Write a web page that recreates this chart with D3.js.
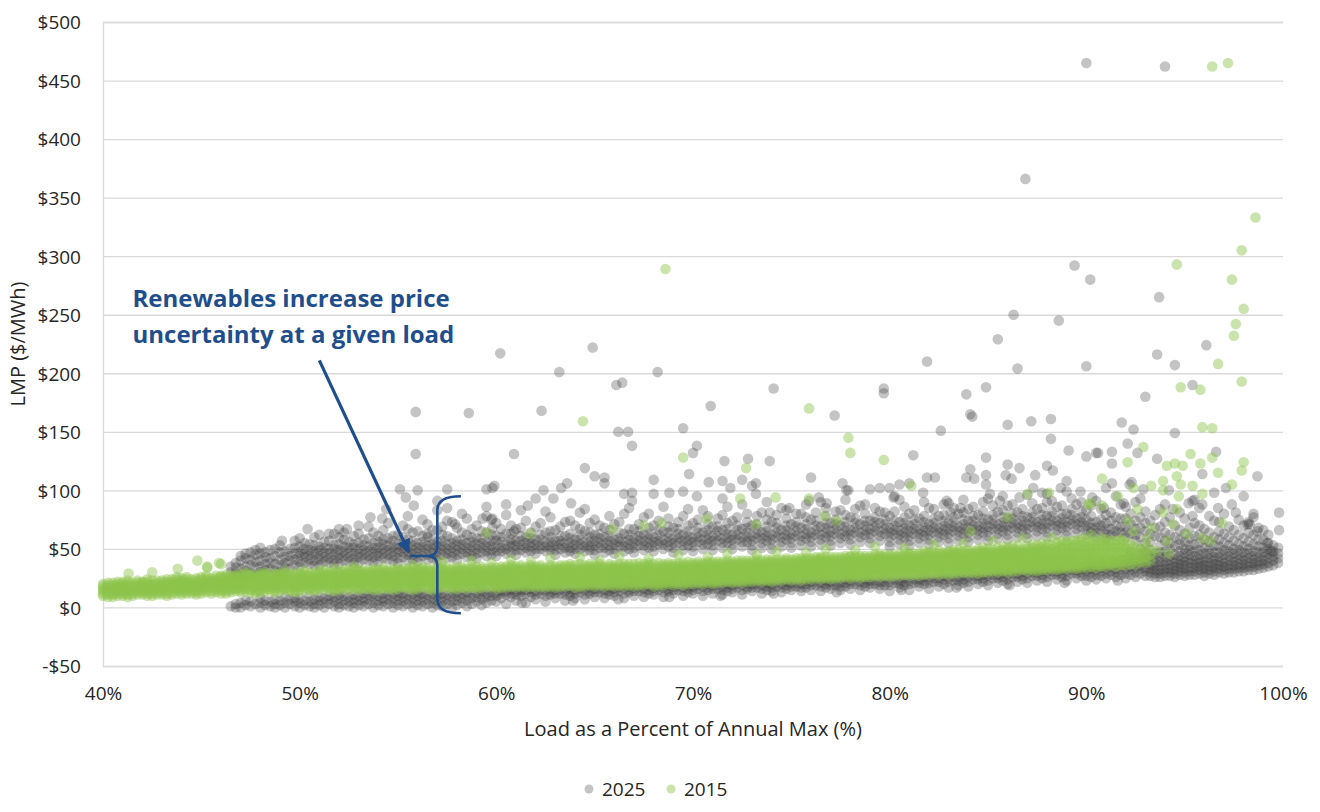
<!DOCTYPE html>
<html>
<head>
<meta charset="utf-8">
<script src="https://cdn.jsdelivr.net/npm/d3@7"></script>
<style>
  body { margin: 0; background: #fff; }
  svg text { font-family: "Open Sans", Lato, sans-serif; }
</style>
</head>
<body>
<svg id="chart"></svg>
<script>
// Axis ticks and series names
const xTicks = [40, 50, 60, 70, 80, 90, 100];
const yTicks = [-50, 0, 50, 100, 150, 200, 250, 300, 350, 400, 450, 500];
const seriesNames = ["2025", "2015"];

// 2025 dense band, one row per load step: [load %, LMP values $/MWh...]
const band2025 = [
  [46.5, 1, 30, 35], [46.75, 0, 3, 29, 34, 38],
  [47.0, 0, 4, 27, 33, 40, 44], [47.25, 2, 6, 31, 35, 42, 46],
  [47.5, 1, 5, 29, 36, 41, 47], [47.75, 3, 28, 34, 39, 45, 49],
  [48.0, 0, 4, 8, 30, 35, 40, 46, 51], [48.25, 2, 6, 32, 37, 43, 47],
  [48.5, 1, 5, 33, 38, 42, 49], [48.75, 0, 3, 7, 31, 37, 44, 50],
  [49.0, 2, 6, 30, 36, 41, 47, 53], [49.25, 0, 4, 9, 34, 38, 43, 48],
  [49.5, 3, 7, 33, 40, 44, 50], [49.75, 1, 5, 8, 36, 41, 46, 51, 57],
  [50.0, 0, 4, 8, 35, 39, 44, 47, 52, 59], [50.25, 2, 6, 38, 43, 46, 50, 55],
  [50.5, 1, 5, 10, 37, 41, 45, 49, 54], [50.75, 0, 3, 7, 36, 40, 45, 48, 53, 60],
  [51.0, 2, 6, 9, 36, 41, 44, 49, 52, 62], [51.25, 0, 4, 8, 39, 43, 47, 51, 56],
  [51.5, 3, 7, 10, 38, 42, 46, 50, 57], [51.75, 1, 5, 9, 37, 41, 45, 50, 53, 63],
  [52.0, 0, 3, 8, 11, 37, 42, 45, 49, 54, 60, 67], [52.25, 2, 6, 10, 40, 44, 48, 52, 58, 64],
  [52.5, 1, 5, 9, 39, 43, 47, 51, 56], [52.75, 0, 4, 7, 11, 38, 42, 46, 51, 54, 61],
  [53.0, 2, 6, 10, 38, 43, 46, 50, 55, 63], [53.25, 1, 5, 8, 12, 41, 45, 49, 53, 58],
  [53.5, 3, 7, 11, 40, 44, 48, 52, 59, 69], [53.75, 0, 4, 9, 12, 39, 43, 47, 51, 55, 64],
  [54.0, 2, 6, 10, 39, 44, 47, 51, 56, 61], [54.25, 1, 5, 8, 12, 42, 46, 50, 54, 58, 66],
  [54.5, 3, 7, 11, 41, 45, 49, 53, 59, 72], [54.75, 0, 4, 8, 12, 40, 44, 48, 52, 57, 61],
  [55.0, 2, 6, 10, 13, 38, 42, 47, 50, 54, 62], [55.25, 1, 5, 9, 12, 43, 47, 51, 55, 60, 70],
  [55.5, 3, 7, 11, 40, 45, 48, 52, 58, 67, 78], [55.75, 0, 4, 8, 12, 41, 45, 49, 53, 57, 64],
  [56.0, 2, 6, 10, 13, 39, 43, 47, 51, 55, 65], [56.25, 1, 5, 9, 12, 44, 48, 52, 56, 61, 75],
  [56.5, 3, 7, 11, 41, 45, 50, 53, 60, 71], [56.75, 0, 4, 8, 12, 42, 46, 50, 54, 58, 66],
  [57.0, 2, 6, 10, 13, 40, 44, 48, 52, 56, 66, 83], [57.25, 1, 5, 9, 12, 45, 49, 53, 57, 62, 69],
  [57.5, 3, 7, 11, 42, 46, 50, 54, 61, 74], [57.75, 0, 5, 9, 13, 43, 47, 51, 55, 59, 73],
  [58.0, 2, 6, 10, 13, 41, 45, 49, 53, 57, 68], [58.25, 4, 8, 12, 46, 50, 54, 58, 64, 80],
  [58.5, 1, 6, 10, 13, 43, 47, 51, 55, 62, 76], [58.75, 3, 8, 12, 44, 48, 52, 56, 60, 67],
  [59.0, 5, 9, 13, 42, 46, 50, 54, 59, 70], [59.25, 2, 7, 11, 14, 47, 51, 55, 59, 65],
  [59.5, 4, 9, 12, 44, 48, 52, 56, 64, 86], [59.75, 6, 10, 13, 45, 49, 53, 57, 62, 75],
  [60.0, 5, 10, 13, 44, 48, 52, 57, 61, 72], [60.25, 8, 12, 14, 48, 51, 56, 60, 67],
  [60.5, 3, 11, 14, 46, 50, 54, 63, 79], [60.75, 9, 12, 15, 47, 52, 55, 58, 63, 70],
  [61.0, 6, 11, 14, 45, 49, 53, 57, 67], [61.25, 10, 13, 15, 49, 53, 57, 61, 68, 83],
  [61.5, 4, 12, 15, 47, 51, 55, 60, 74], [61.75, 9, 13, 16, 48, 52, 55, 59, 64],
  [62.0, 7, 11, 14, 46, 50, 54, 58, 69], [62.25, 12, 15, 50, 53, 58, 62, 72],
  [62.5, 5, 10, 14, 48, 52, 56, 64, 82], [62.75, 11, 13, 16, 49, 52, 56, 60, 65, 77],
  [63.0, 8, 12, 15, 45, 49, 53, 57, 66], [63.25, 12, 15, 50, 54, 57, 61, 69],
  [63.5, 6, 11, 14, 47, 51, 55, 61, 73], [63.75, 10, 13, 16, 48, 51, 55, 59, 63, 74],
  [64.0, 8, 12, 15, 46, 50, 54, 58, 70], [64.25, 13, 16, 50, 54, 58, 62, 67, 81],
  [64.5, 7, 11, 15, 48, 52, 56, 65, 84], [64.75, 12, 14, 17, 49, 52, 56, 60, 64, 72],
  [65.0, 9, 13, 16, 45, 49, 53, 57, 62, 75], [65.25, 13, 16, 51, 55, 59, 63, 70],
  [65.5, 8, 12, 15, 47, 51, 55, 60, 68], [65.75, 11, 14, 17, 49, 53, 57, 61, 66, 78],
  [66.0, 10, 13, 16, 46, 50, 54, 58, 71], [66.25, 14, 17, 52, 56, 59, 64, 73],
  [66.5, 8, 12, 16, 48, 52, 56, 63, 80], [66.75, 13, 15, 18, 50, 54, 58, 62, 67, 85],
  [67.0, 10, 14, 17, 47, 51, 55, 59, 67], [67.25, 14, 17, 53, 57, 61, 65, 71],
  [67.5, 9, 13, 16, 49, 53, 57, 62, 77], [67.75, 12, 15, 18, 51, 55, 59, 63, 68, 80],
  [68.0, 11, 14, 17, 48, 52, 56, 60, 70], [68.25, 15, 18, 54, 57, 62, 66, 74],
  [68.5, 9, 13, 17, 50, 54, 58, 65, 86], [68.75, 14, 16, 19, 52, 56, 60, 64, 69, 76],
  [69.0, 12, 15, 18, 47, 51, 55, 59, 68], [69.25, 15, 18, 55, 59, 63, 67, 73],
  [69.5, 10, 14, 17, 49, 53, 57, 62, 78], [69.75, 13, 16, 19, 53, 57, 61, 65, 70, 84],
  [70.0, 12, 15, 18, 48, 52, 56, 60, 72], [70.25, 16, 19, 56, 60, 64, 68, 75],
  [70.5, 10, 14, 18, 50, 54, 58, 64, 83], [70.75, 15, 17, 20, 54, 58, 62, 66, 71, 78],
  [71.0, 12, 16, 19, 49, 53, 57, 61, 69], [71.25, 16, 19, 57, 61, 65, 69, 76],
  [71.5, 11, 15, 18, 51, 55, 59, 66, 79], [71.75, 14, 17, 20, 55, 59, 63, 67, 72, 86],
  [72.0, 13, 16, 19, 50, 54, 58, 62, 74], [72.25, 17, 20, 58, 62, 66, 70, 77],
  [72.5, 11, 15, 19, 52, 56, 60, 67, 88], [72.75, 16, 18, 21, 56, 60, 64, 68, 73, 80],
  [73.0, 14, 17, 20, 49, 53, 57, 61, 70], [73.25, 17, 20, 59, 63, 67, 71, 78],
  [73.5, 12, 16, 19, 51, 55, 59, 64, 81], [73.75, 15, 18, 21, 57, 61, 65, 69, 75, 90],
  [74.0, 14, 17, 20, 50, 54, 58, 62, 73], [74.25, 18, 21, 60, 64, 68, 72, 79],
  [74.5, 13, 17, 20, 52, 56, 60, 66, 85], [74.75, 16, 19, 22, 58, 62, 66, 70, 76, 83],
  [75.0, 15, 18, 21, 51, 55, 59, 63, 71], [75.25, 18, 21, 61, 65, 69, 73, 80],
  [75.5, 14, 17, 20, 53, 57, 61, 68, 80], [75.75, 17, 20, 23, 59, 63, 67, 71, 77, 88],
  [76.0, 15, 19, 22, 52, 56, 60, 64, 75], [76.25, 19, 22, 62, 66, 70, 74, 81],
  [76.5, 14, 18, 21, 54, 58, 62, 69, 90], [76.75, 17, 20, 23, 60, 64, 68, 72, 78, 85],
  [77.0, 16, 19, 22, 53, 57, 61, 65, 72], [77.25, 19, 22, 63, 67, 71, 75, 82],
  [77.5, 15, 18, 21, 55, 59, 63, 70, 83], [77.75, 18, 21, 24, 61, 65, 69, 73, 79, 92],
  [78.0, 16, 20, 23, 54, 58, 62, 66, 77], [78.25, 20, 23, 64, 68, 72, 76, 84],
  [78.5, 15, 19, 22, 56, 60, 64, 71, 87], [78.75, 18, 21, 24, 62, 66, 70, 74, 80, 88],
  [79.0, 17, 20, 23, 55, 59, 63, 67, 74], [79.25, 20, 23, 65, 69, 73, 77, 85],
  [79.5, 16, 19, 22, 57, 61, 65, 72, 82], [79.75, 19, 22, 25, 63, 67, 71, 75, 81],
  [80.0, 14, 19, 22, 52, 56, 60, 64, 68, 78], [80.25, 21, 24, 62, 66, 70, 74, 82, 95],
  [80.5, 17, 20, 23, 54, 58, 62, 66, 73, 92], [80.75, 19, 22, 25, 60, 64, 68, 72, 77, 86],
  [81.0, 15, 20, 23, 53, 57, 61, 65, 70, 80], [81.25, 21, 24, 63, 67, 71, 75, 83],
  [81.5, 18, 21, 24, 55, 59, 63, 67, 76], [81.75, 20, 23, 26, 61, 65, 69, 73, 78, 90],
  [82.0, 16, 21, 24, 54, 58, 62, 66, 71, 85], [82.25, 22, 25, 64, 68, 72, 76, 84],
  [82.5, 18, 22, 25, 56, 60, 64, 68, 78], [82.75, 20, 24, 27, 62, 66, 70, 74, 79, 88],
  [83.0, 17, 22, 25, 55, 59, 63, 67, 72, 89], [83.25, 23, 26, 65, 69, 73, 77, 85],
  [83.5, 19, 23, 26, 57, 61, 65, 69, 80], [83.75, 21, 24, 27, 63, 67, 71, 75, 81, 92],
  [84.0, 18, 22, 26, 56, 60, 64, 68, 74, 84], [84.25, 24, 27, 66, 70, 74, 78, 86],
  [84.5, 20, 24, 27, 58, 62, 66, 70, 79], [84.75, 22, 25, 28, 64, 68, 72, 76, 82, 90],
  [85.0, 19, 23, 27, 57, 61, 65, 69, 75, 93], [85.25, 25, 28, 67, 71, 75, 79, 87],
  [85.5, 21, 25, 28, 59, 63, 67, 71, 82], [85.75, 23, 26, 29, 65, 69, 73, 77, 83, 95],
  [86.0, 20, 24, 28, 58, 62, 66, 70, 76, 87], [86.25, 26, 29, 68, 72, 76, 80, 88],
  [86.5, 22, 26, 29, 60, 64, 68, 72, 81], [86.75, 24, 27, 30, 66, 70, 74, 78, 84],
  [87.0, 21, 25, 29, 59, 63, 67, 71, 77, 96], [87.25, 27, 30, 69, 73, 77, 81, 89],
  [87.5, 23, 27, 30, 61, 65, 69, 73, 84], [87.75, 25, 28, 31, 67, 71, 75, 79, 85, 98],
  [88.0, 22, 26, 30, 60, 64, 68, 72, 78, 90], [88.25, 28, 31, 70, 74, 78, 82, 91],
  [88.5, 24, 28, 31, 62, 66, 70, 74, 86], [88.75, 26, 29, 32, 68, 72, 76, 80, 87],
  [89.0, 23, 27, 31, 61, 65, 69, 73, 80, 99], [89.25, 29, 32, 71, 75, 79, 84, 93],
  [89.5, 25, 29, 32, 63, 67, 71, 76, 88], [89.75, 27, 30, 33, 69, 73, 77, 82, 90],
  [90.0, 23, 27, 31, 34, 62, 66, 70, 75, 83], [90.25, 26, 30, 33, 36, 64, 68, 72, 78, 87],
  [90.5, 24, 28, 32, 35, 60, 64, 68, 73, 91], [90.75, 27, 31, 34, 38, 66, 70, 75, 84],
  [91.0, 25, 29, 33, 36, 59, 63, 67, 72, 79], [91.25, 28, 31, 35, 40, 62, 67, 74, 81],
  [91.5, 26, 30, 33, 37, 61, 65, 70, 77, 95], [91.75, 28, 32, 36, 41, 64, 69, 76, 88],
  [92.0, 25, 29, 33, 37, 41, 60, 64, 69, 76, 86], [92.25, 28, 32, 35, 39, 44, 48, 63, 71, 80],
  [92.5, 26, 30, 34, 38, 42, 57, 62, 67, 74, 90], [92.75, 29, 33, 36, 40, 45, 50, 60, 68, 77, 93],
  [93.0, 27, 31, 34, 38, 42, 47, 55, 65, 72, 82], [93.25, 27, 30, 33, 36, 40, 44, 49, 56, 63, 74],
  [93.5, 26, 29, 32, 35, 38, 42, 46, 61, 68, 79], [93.75, 26, 29, 32, 35, 39, 43, 47, 53, 60, 69, 84],
  [94.0, 27, 30, 33, 36, 39, 43, 48, 57, 64, 73, 88], [94.25, 27, 30, 33, 36, 40, 44, 50, 55, 62, 77],
  [94.5, 26, 29, 32, 35, 38, 41, 45, 52, 60, 70], [94.75, 28, 31, 34, 37, 40, 44, 48, 54, 58, 66, 81],
  [95.0, 27, 30, 33, 36, 39, 42, 46, 50, 56, 63, 76], [95.25, 28, 31, 34, 38, 41, 45, 49, 53, 59, 68],
  [95.5, 28, 31, 34, 37, 40, 44, 48, 54, 61, 72, 92], [95.75, 29, 32, 35, 38, 41, 45, 49, 55, 62, 70, 85],
  [96.0, 27, 30, 33, 36, 39, 42, 46, 51, 58, 67], [96.25, 29, 32, 35, 38, 42, 46, 50, 56, 64, 78],
  [96.5, 28, 31, 34, 37, 40, 43, 47, 53, 60, 74], [96.75, 30, 33, 36, 39, 43, 47, 52, 58, 65, 73],
  [97.0, 29, 32, 35, 38, 41, 45, 49, 55, 63, 80], [97.25, 30, 33, 36, 40, 44, 48, 53, 60, 69],
  [97.5, 30, 33, 36, 39, 42, 46, 50, 57, 66], [97.75, 31, 34, 37, 41, 45, 49, 54, 62, 75],
  [98.0, 31, 34, 37, 40, 43, 47, 52, 59, 70, 95], [98.25, 32, 35, 38, 42, 46, 50, 56, 64, 73],
  [98.5, 32, 35, 38, 41, 44, 48, 54, 62, 77], [98.75, 33, 36, 39, 43, 47, 52, 58, 68],
  [99.0, 34, 37, 40, 43, 47, 51, 58, 66], [99.25, 35, 38, 42, 46, 50, 55, 62],
  [99.5, 36, 40, 44, 48, 53], [99.75, 38, 42, 46, 51]
];

// 2025 scattered hours: [load %, LMP]
const scatter2025 = [
  [90.0, 465], [94.0, 462], [86.9, 366], [89.4, 292], [90.2, 280], [93.7, 265], [86.3, 250], [88.6, 245],
  [85.5, 229], [96.1, 224], [64.9, 222], [60.2, 217], [93.6, 216], [81.9, 210], [90.0, 206], [94.5, 207],
  [86.5, 204], [63.2, 201], [68.2, 201], [66.1, 190], [66.4, 192], [95.4, 190], [74.1, 187], [79.7, 187],
  [79.7, 183], [84.9, 188], [83.9, 182], [93.0, 180], [62.3, 168], [55.9, 167], [58.6, 166], [70.9, 172],
  [77.2, 164], [84.1, 165], [84.2, 163], [88.2, 161], [87.2, 159], [91.8, 158], [86.0, 156], [69.5, 153],
  [92.4, 152], [82.6, 151], [66.2, 150], [66.7, 150], [94.5, 149], [88.2, 144], [92.1, 140], [66.9, 138],
  [70.2, 138], [89.1, 134], [91.3, 133], [96.6, 133], [70.0, 132], [90.5, 132], [92.6, 132], [55.9, 131],
  [60.9, 131], [81.2, 130], [90.0, 129], [84.9, 128], [72.8, 127], [93.6, 127], [71.6, 125], [73.9, 125],
  [91.3, 123], [86.0, 122], [88.0, 121], [64.5, 119], [86.6, 119], [84.1, 118], [88.3, 117], [69.8, 114],
  [65.0, 112], [98.7, 112], [65.5, 111], [76.0, 111], [81.9, 111], [82.3, 111], [83.9, 111], [84.3, 110],
  [86.2, 110], [68.0, 109], [72.5, 109], [71.5, 108], [70.8, 107], [65.5, 106], [73.2, 106], [77.6, 106],
  [84.9, 105], [87.4, 113], [84.9, 113], [85.9, 113], [59.9, 104], [59.8, 102], [77.9, 100],
  [62.4, 100], [63.3, 102], [63.6, 106], [62.0, 93], [62.9, 93], [63.8, 89], [61.6, 87], [66.5, 97],
  [66.9, 98], [66.9, 91], [68.0, 97], [68.8, 98], [69.5, 99], [70.2, 95], [71.5, 93], [71.9, 102],
  [73.0, 104], [73.2, 97], [73.9, 81], [74.9, 85], [75.9, 91], [76.4, 94], [76.8, 89], [77.8, 100],
  [79.0, 101], [79.5, 102], [80.2, 94], [59.8, 76], [59.5, 78], [60.9, 65], [60.5, 88],
  [55.1, 101], [56.0, 100], [57.5, 101], [55.4, 94], [54.4, 84], [55.8, 87], [57.5, 85], [57.0, 91],
  [54.2, 76], [53.6, 77], [53.0, 70], [52.4, 67], [51.5, 63], [50.4, 67], [49.1, 57], [56.5, 63],
  [57.9, 71], [59.5, 101], [59.3, 76], [59.8, 68],
  [80.0, 102], [80.5, 105], [81.0, 106], [81.7, 98], [82.9, 91], [83.6, 85], [83.1, 81], [85.1, 97],
  [85.6, 91], [86.6, 94], [87.3, 102], [88.0, 97], [88.7, 102], [89.0, 108], [89.7, 99], [90.3, 94],
  [91.0, 102], [91.3, 106], [92.2, 105], [92.9, 101], [94.2, 100], [95.4, 91], [95.9, 114], [96.7, 85],
  [97.1, 102], [97.4, 88], [97.6, 81], [98.5, 80], [98.3, 71], [98.7, 65], [99.2, 55], [99.4, 48],
  [99.8, 81], [99.8, 66], [90.6, 132], [92.3, 107], [96.5, 98], [95.9, 88], [90.9, 85], [91.9, 89],
  [94.4, 84], [95.2, 89], [95.4, 78], [98.2, 71],
  [61.3, 4], [63.9, 6], [66.2, 7], [68.8, 9], [71.4, 10], [74.1, 12], [77.3, 13], [80.6, 15],
  [83.4, 17], [86.1, 19], [88.9, 21], [91.6, 23]
];

// 2015 dense band: [load %, LMP values...]
const band2015 = [
  [40.0, 10, 12, 14, 16, 18, 20], [40.25, 9, 11, 13, 15, 17, 19, 21],
  [40.5, 9, 11, 13, 15, 17, 19, 21], [40.75, 10, 12, 14, 16, 18, 20, 22],
  [41.0, 10, 12, 14, 16, 18, 20, 22], [41.25, 9, 11, 13, 15, 17, 19, 21, 23],
  [41.5, 10, 12, 14, 17, 19, 21], [41.75, 11, 13, 15, 17, 19, 21, 23],
  [42.0, 11, 13, 15, 17, 19, 21, 22], [42.25, 10, 12, 14, 16, 18, 20, 22, 24],
  [42.5, 10, 12, 14, 16, 18, 20, 23], [42.75, 11, 13, 15, 17, 19, 21, 23],
  [43.0, 11, 13, 15, 17, 19, 21, 23], [43.25, 10, 12, 14, 16, 18, 20, 22, 24],
  [43.5, 11, 13, 16, 18, 20, 22, 24], [43.75, 12, 14, 16, 18, 20, 22, 24, 26],
  [44.0, 11, 13, 15, 17, 19, 21, 23, 25], [44.25, 12, 14, 16, 18, 20, 22, 24, 26],
  [44.5, 12, 14, 16, 18, 20, 22, 24], [44.75, 11, 13, 15, 17, 19, 21, 23, 25],
  [45.0, 12, 14, 16, 18, 20, 22, 24, 26], [45.25, 13, 15, 17, 19, 21, 23, 25, 27],
  [45.5, 12, 14, 17, 19, 21, 23, 25], [45.75, 13, 15, 17, 19, 21, 23, 25, 27],
  [46.0, 12, 14, 16, 18, 20, 22, 24, 26, 27], [46.25, 12, 14, 16, 18, 20, 22, 24, 26, 28],
  [46.5, 13, 15, 17, 19, 21, 23, 25, 27], [46.75, 14, 16, 18, 20, 22, 24, 26, 28],
  [47.0, 13, 15, 17, 19, 21, 23, 25, 27, 28], [47.25, 14, 16, 18, 20, 22, 24, 26, 28, 30],
  [47.5, 13, 15, 18, 20, 22, 24, 26, 28], [47.75, 12, 14, 16, 18, 20, 22, 24, 26, 28],
  [48.0, 13, 15, 17, 19, 21, 23, 25, 27, 29], [48.25, 14, 16, 18, 20, 22, 24, 26, 28, 30],
  [48.5, 14, 16, 18, 20, 22, 24, 26, 28], [48.75, 13, 15, 17, 19, 21, 23, 25, 27, 29],
  [49.0, 14, 16, 18, 20, 22, 24, 26, 28, 29], [49.25, 15, 17, 19, 21, 23, 25, 27, 29, 31],
  [49.5, 14, 16, 18, 21, 23, 25, 27, 29], [49.75, 13, 15, 17, 19, 21, 23, 25, 27, 29],
  [50.0, 14, 16, 18, 20, 22, 24, 26, 28, 30], [50.25, 15, 17, 19, 21, 23, 25, 27, 29, 31],
  [50.5, 15, 17, 19, 21, 23, 25, 27, 29], [50.75, 14, 16, 18, 20, 22, 24, 26, 28, 30],
  [51.0, 15, 17, 19, 21, 23, 25, 27, 29, 31], [51.25, 16, 18, 20, 22, 24, 26, 28, 30, 32],
  [51.5, 15, 17, 19, 22, 24, 26, 28, 30], [51.75, 14, 16, 18, 20, 22, 24, 26, 28, 30, 33],
  [52.0, 15, 17, 19, 21, 23, 25, 27, 29, 31], [52.25, 16, 18, 20, 22, 24, 26, 28, 30, 32],
  [52.5, 15, 18, 20, 22, 24, 26, 28, 30, 32], [52.75, 16, 18, 20, 22, 24, 26, 28, 30, 32, 35],
  [53.0, 15, 17, 19, 21, 23, 25, 27, 29, 31, 32], [53.25, 16, 18, 20, 22, 24, 26, 28, 30, 32],
  [53.5, 16, 18, 20, 22, 24, 26, 28, 30, 32], [53.75, 15, 17, 19, 21, 23, 25, 27, 29, 31, 33],
  [54.0, 15, 17, 19, 21, 23, 25, 27, 29, 31, 32], [54.25, 16, 18, 20, 22, 24, 26, 28, 30, 32, 34],
  [54.5, 16, 18, 20, 22, 24, 26, 28, 30, 32], [54.75, 15, 17, 19, 21, 23, 25, 27, 29, 31, 33],
  [55.0, 16, 18, 20, 22, 24, 26, 28, 30, 32, 33], [55.25, 17, 19, 21, 23, 25, 27, 29, 31, 33],
  [55.5, 16, 18, 20, 23, 25, 27, 29, 31, 33], [55.75, 15, 17, 19, 21, 23, 25, 27, 29, 31, 33, 36],
  [56.0, 16, 18, 20, 22, 24, 26, 28, 30, 32, 33], [56.25, 17, 19, 21, 23, 25, 27, 29, 31, 33, 35],
  [56.5, 16, 18, 21, 23, 25, 27, 29, 31, 33], [56.75, 15, 17, 19, 21, 23, 25, 27, 29, 31, 33],
  [57.0, 16, 18, 20, 22, 24, 26, 28, 30, 32, 34], [57.25, 17, 19, 21, 23, 25, 27, 29, 31, 33, 35, 39],
  [57.5, 17, 19, 21, 23, 25, 27, 29, 31, 33], [57.75, 16, 18, 20, 22, 24, 26, 28, 30, 32, 34],
  [58.0, 16, 18, 20, 22, 24, 26, 28, 30, 32, 34], [58.25, 17, 19, 21, 23, 25, 27, 29, 31, 33, 35],
  [58.5, 16, 18, 21, 23, 25, 27, 29, 31, 33], [58.75, 17, 19, 21, 23, 25, 27, 29, 31, 33, 35, 40],
  [59.0, 16, 18, 20, 22, 24, 26, 28, 30, 32, 34], [59.25, 17, 19, 21, 23, 25, 27, 29, 31, 33, 35],
  [59.5, 17, 19, 21, 23, 25, 27, 29, 31, 33], [59.75, 18, 20, 22, 24, 26, 28, 30, 32, 34, 38],
  [60.0, 16, 18, 20, 22, 24, 26, 28, 30, 32, 34], [60.25, 17, 19, 21, 23, 25, 27, 29, 31, 33, 35],
  [60.5, 17, 19, 21, 23, 25, 27, 29, 31, 33, 35], [60.75, 18, 20, 22, 24, 26, 28, 30, 32, 34, 36, 41],
  [61.0, 17, 19, 21, 23, 25, 27, 29, 31, 33, 35], [61.25, 18, 20, 22, 24, 26, 28, 30, 32, 34, 36],
  [61.5, 17, 19, 22, 24, 26, 28, 30, 32, 34], [61.75, 18, 20, 22, 24, 26, 28, 30, 32, 34, 36, 39],
  [62.0, 17, 19, 21, 23, 25, 27, 29, 31, 33, 35], [62.25, 18, 20, 22, 24, 26, 28, 30, 32, 34, 36],
  [62.5, 17, 19, 21, 24, 26, 28, 30, 32, 34], [62.75, 18, 20, 22, 24, 26, 28, 30, 32, 34, 36, 42],
  [63.0, 17, 19, 21, 23, 25, 27, 29, 31, 33, 35], [63.25, 18, 20, 22, 24, 26, 28, 30, 32, 34, 36],
  [63.5, 18, 20, 22, 24, 26, 28, 30, 32, 34, 36], [63.75, 19, 21, 23, 25, 27, 29, 31, 33, 35, 37],
  [64.0, 17, 19, 21, 23, 25, 27, 29, 31, 33, 36], [64.25, 18, 20, 22, 24, 26, 28, 30, 32, 34, 37, 43],
  [64.5, 18, 20, 22, 24, 26, 28, 30, 32, 34, 36], [64.75, 19, 21, 23, 25, 27, 29, 31, 33, 35, 37],
  [65.0, 18, 20, 22, 24, 26, 28, 30, 32, 34, 36], [65.25, 19, 21, 23, 25, 27, 29, 31, 33, 35, 37, 40],
  [65.5, 18, 20, 22, 25, 27, 29, 31, 33, 35], [65.75, 19, 21, 23, 25, 27, 29, 31, 33, 35, 37],
  [66.0, 18, 20, 22, 24, 26, 28, 30, 32, 34, 36], [66.25, 19, 21, 23, 25, 27, 29, 31, 33, 35, 37, 44],
  [66.5, 18, 20, 23, 25, 27, 29, 31, 33, 35, 37], [66.75, 19, 21, 23, 25, 27, 29, 31, 33, 35, 37],
  [67.0, 18, 20, 22, 24, 26, 28, 30, 32, 34, 37], [67.25, 19, 21, 23, 25, 27, 29, 31, 33, 35, 38],
  [67.5, 19, 21, 23, 25, 27, 29, 31, 33, 35, 37], [67.75, 20, 22, 24, 26, 28, 30, 32, 34, 36, 38, 42],
  [68.0, 18, 20, 22, 24, 26, 28, 30, 32, 34, 37], [68.25, 19, 21, 23, 25, 27, 29, 31, 33, 35, 38],
  [68.5, 19, 21, 23, 25, 27, 29, 31, 33, 35, 37], [68.75, 20, 22, 24, 26, 28, 30, 32, 34, 36, 38],
  [69.0, 19, 21, 23, 25, 27, 29, 31, 33, 35, 37], [69.25, 20, 22, 24, 26, 28, 30, 32, 34, 36, 38, 45],
  [69.5, 19, 21, 24, 26, 28, 30, 32, 34, 36, 38], [69.75, 20, 22, 24, 26, 28, 30, 32, 34, 36, 39],
  [70.0, 20, 22, 24, 26, 28, 30, 32, 34, 36, 38], [70.25, 21, 23, 25, 27, 29, 31, 33, 35, 37, 39],
  [70.5, 20, 22, 24, 26, 28, 30, 32, 34, 36, 38], [70.75, 21, 23, 25, 27, 29, 31, 33, 35, 37, 39, 43],
  [71.0, 20, 22, 24, 27, 29, 31, 33, 35, 37, 39], [71.25, 21, 23, 25, 27, 29, 31, 33, 35, 37, 39],
  [71.5, 21, 23, 25, 27, 29, 31, 33, 35, 37, 39], [71.75, 22, 24, 26, 28, 30, 32, 34, 36, 38, 40, 46],
  [72.0, 21, 23, 25, 27, 29, 31, 33, 35, 37, 39], [72.25, 22, 24, 26, 28, 30, 32, 34, 36, 38, 40],
  [72.5, 21, 23, 26, 28, 30, 32, 34, 36, 38, 40], [72.75, 22, 24, 26, 28, 30, 32, 34, 36, 38, 40],
  [73.0, 22, 24, 26, 28, 30, 32, 34, 36, 38, 40], [73.25, 23, 25, 27, 29, 31, 33, 35, 37, 39, 41, 45],
  [73.5, 22, 24, 26, 28, 30, 32, 34, 36, 38, 40], [73.75, 23, 25, 27, 29, 31, 33, 35, 37, 39, 41],
  [74.0, 22, 24, 26, 29, 31, 33, 35, 37, 39, 41], [74.25, 23, 25, 27, 29, 31, 33, 35, 37, 39, 41, 48],
  [74.5, 23, 25, 27, 29, 31, 33, 35, 37, 39, 41], [74.75, 24, 26, 28, 30, 32, 34, 36, 38, 40, 42],
  [75.0, 23, 25, 27, 29, 31, 33, 35, 37, 39, 41], [75.25, 24, 26, 28, 30, 32, 34, 36, 38, 40, 42],
  [75.5, 23, 25, 28, 30, 32, 34, 36, 38, 40, 42], [75.75, 24, 26, 28, 30, 32, 34, 36, 38, 40, 42, 47],
  [76.0, 24, 26, 28, 30, 32, 34, 36, 38, 40, 42], [76.25, 25, 27, 29, 31, 33, 35, 37, 39, 41, 43],
  [76.5, 24, 26, 28, 30, 32, 34, 36, 38, 40, 42, 43], [76.75, 25, 27, 29, 31, 33, 35, 37, 39, 41, 43, 50],
  [77.0, 24, 26, 28, 31, 33, 35, 37, 39, 41, 43], [77.25, 25, 27, 29, 31, 33, 35, 37, 39, 41, 43],
  [77.5, 25, 27, 29, 31, 33, 35, 37, 39, 41, 43], [77.75, 26, 28, 30, 32, 34, 36, 38, 40, 42, 44],
  [78.0, 25, 27, 29, 31, 33, 35, 37, 39, 41, 43, 44], [78.25, 26, 28, 30, 32, 34, 36, 38, 40, 42, 44, 49],
  [78.5, 25, 27, 30, 32, 34, 36, 38, 40, 42, 44], [78.75, 26, 28, 30, 32, 34, 36, 38, 40, 42, 44],
  [79.0, 26, 28, 30, 32, 34, 36, 38, 40, 42, 44], [79.25, 27, 29, 31, 33, 35, 37, 39, 41, 43, 45, 52],
  [79.5, 26, 28, 30, 32, 34, 36, 38, 40, 42, 44, 45], [79.75, 27, 29, 31, 33, 35, 37, 39, 41, 43, 45],
  [80.0, 26, 28, 31, 33, 35, 37, 39, 41, 43, 45], [80.25, 27, 29, 31, 33, 35, 37, 39, 41, 43, 45],
  [80.5, 27, 29, 31, 33, 35, 37, 39, 41, 43, 45], [80.75, 28, 30, 32, 34, 36, 38, 40, 42, 44, 46, 51],
  [81.0, 27, 29, 31, 33, 35, 37, 39, 41, 43, 45, 46], [81.25, 28, 30, 32, 34, 36, 38, 40, 42, 44, 46],
  [81.5, 27, 29, 32, 34, 36, 38, 40, 42, 44, 46], [81.75, 28, 30, 32, 34, 36, 38, 40, 42, 44, 46, 48],
  [82.0, 28, 30, 32, 34, 36, 38, 40, 42, 44, 46, 47], [82.25, 29, 31, 33, 35, 37, 39, 41, 43, 45, 47, 54],
  [82.5, 28, 30, 32, 34, 36, 38, 40, 42, 44, 46, 48], [82.75, 29, 31, 33, 35, 37, 39, 41, 43, 45, 47],
  [83.0, 28, 30, 33, 35, 37, 39, 41, 43, 45, 47, 48], [83.25, 29, 31, 33, 35, 37, 39, 41, 43, 45, 47, 49],
  [83.5, 29, 31, 33, 35, 37, 39, 41, 43, 45, 47, 49], [83.75, 30, 32, 34, 36, 38, 40, 42, 44, 46, 48, 55],
  [84.0, 29, 31, 33, 35, 37, 39, 41, 43, 45, 47, 49], [84.25, 30, 32, 34, 36, 38, 40, 42, 44, 46, 48],
  [84.5, 29, 31, 34, 36, 38, 40, 42, 44, 46, 48, 50], [84.75, 30, 32, 34, 36, 38, 40, 42, 44, 46, 48, 51],
  [85.0, 30, 32, 34, 36, 38, 40, 42, 44, 46, 48, 50], [85.25, 31, 33, 35, 37, 39, 41, 43, 45, 47, 49, 57],
  [85.5, 30, 32, 34, 36, 38, 40, 42, 44, 46, 48, 51], [85.75, 31, 33, 35, 37, 39, 41, 43, 45, 47, 49, 52],
  [86.0, 30, 32, 35, 37, 39, 41, 43, 45, 47, 49, 51], [86.25, 31, 33, 35, 37, 39, 41, 43, 45, 47, 50, 53],
  [86.5, 31, 33, 35, 37, 39, 41, 43, 45, 47, 49, 52], [86.75, 32, 34, 36, 38, 40, 42, 44, 46, 48, 50, 59],
  [87.0, 31, 33, 35, 37, 39, 41, 43, 45, 47, 50, 52], [87.25, 32, 34, 36, 38, 40, 42, 44, 46, 48, 51, 54],
  [87.5, 31, 33, 36, 38, 40, 42, 44, 46, 48, 50, 53], [87.75, 32, 34, 36, 38, 40, 42, 44, 46, 49, 52, 55],
  [88.0, 32, 34, 36, 38, 40, 42, 44, 46, 48, 51, 54], [88.25, 33, 35, 37, 39, 41, 43, 45, 47, 50, 53, 60],
  [88.5, 32, 34, 36, 38, 40, 42, 44, 47, 49, 52, 55], [88.75, 33, 35, 37, 39, 41, 43, 45, 48, 51, 54, 57],
  [89.0, 33, 35, 37, 39, 41, 43, 45, 47, 50, 53, 56], [89.25, 34, 36, 38, 40, 42, 44, 46, 48, 51, 54, 57],
  [89.5, 33, 35, 37, 39, 41, 44, 46, 48, 51, 54, 57], [89.75, 34, 36, 38, 40, 42, 45, 47, 50, 53, 56, 59],
  [90.0, 34, 36, 38, 40, 42, 44, 46, 49, 52, 55, 58], [90.25, 35, 37, 39, 41, 43, 45, 47, 50, 53, 56, 62],
  [90.5, 34, 36, 38, 41, 43, 45, 48, 51, 54, 57], [90.75, 35, 37, 39, 42, 44, 47, 50, 53, 56, 59],
  [91.0, 35, 37, 39, 41, 43, 46, 49, 52, 55, 58], [91.25, 36, 38, 40, 42, 45, 48, 51, 54, 57],
  [91.5, 35, 38, 40, 42, 45, 48, 51, 54, 57], [91.75, 36, 39, 42, 45, 48, 51, 54, 58],
  [92.0, 36, 39, 42, 45, 48, 51, 55], [92.25, 37, 40, 43, 47, 50, 54],
  [92.5, 37, 41, 44, 48, 52], [92.75, 39, 42, 46, 50],
  [93.0, 38, 43, 47, 52], [93.25, 40, 45, 50]
];

// 2015 scattered hours: [load %, LMP]
const scatter2015 = [
  [96.4, 462], [97.2, 465], [68.6, 289], [94.6, 293], [98.6, 333], [97.9, 305], [97.4, 280], [98.0, 255],
  [97.6, 242], [97.5, 232], [96.7, 208], [97.9, 193], [94.8, 188], [95.8, 186], [75.9, 170], [64.4, 159],
  [95.9, 154], [96.4, 153], [77.9, 145], [92.9, 137], [78.0, 132], [95.3, 131], [69.5, 128], [96.4, 128],
  [79.7, 126], [92.1, 124], [98.0, 124], [94.1, 121], [94.5, 123], [94.9, 121], [95.8, 123], [72.7, 119],
  [97.9, 117], [96.7, 115], [94.6, 112], [90.8, 110], [93.9, 108], [97.4, 105], [94.8, 105], [95.4, 104],
  [93.3, 104], [81.1, 104], [92.4, 102], [93.9, 100], [88.1, 98], [87.0, 97], [95.9, 97], [94.7, 95],
  [91.6, 95], [74.2, 94], [75.9, 93], [72.4, 93], [90.2, 89], [90.1, 88], [90.8, 87], [92.6, 84],
  [94.6, 84], [93.9, 81], [76.7, 78], [86.0, 77], [70.7, 76], [77.3, 74], [92.1, 74], [96.9, 72],
  [68.4, 72], [73.2, 71], [94.4, 71], [67.5, 70], [93.3, 68], [65.9, 67], [84.1, 65], [92.4, 65],
  [59.5, 64], [95.1, 63], [61.7, 63], [95.9, 59], [93.1, 59], [96.3, 57], [94.1, 57], [91.9, 57],
  [93.6, 48], [94.2, 46], [45.9, 38], [45.3, 35], [41.3, 29], [44.8, 40], [46.0, 37], [45.3, 34],
  [42.5, 30], [43.8, 33]
];

const width = 1320;
const height = 812;
const marginTop = 22;
const marginRight = 37;
const marginBottom = 146;
const marginLeft = 103;

const gray = "#333333";
const green = "#8bc34a";
const navy = "#1f4e8c";
const gridColor = "#d9d9d9";

// flatten rows into points
function toPoints(band, scatter) {
  const pts = band.flatMap(([load, ...vals]) => vals.map(v => ({ load, lmp: v })));
  return pts.concat(scatter.map(([load, lmp]) => ({ load, lmp })));
}
const points2025 = toPoints(band2025, scatter2025);
const points2015 = toPoints(band2015, scatter2015);

const x = d3.scaleLinear()
  .domain([40, 100])
  .range([marginLeft, width - marginRight]);

const y = d3.scaleLinear()
  .domain([-50, 500])
  .range([height - marginBottom, marginTop]);

const svg = d3.select("#chart")
  .attr("width", width)
  .attr("height", height)
  .attr("viewBox", [0, 0, width, height]);

// y axis with gridlines
svg.append("g")
  .attr("transform", `translate(${marginLeft},0)`)
  .call(d3.axisLeft(y)
    .tickValues(yTicks)
    .tickSize(-(width - marginLeft - marginRight))
    .tickPadding(22)
    .tickFormat(d => (d < 0 ? "-$" + (-d) : "$" + d)))
  .call(g => g.select(".domain").attr("stroke", gridColor).attr("stroke-width", 1.3))
  .call(g => g.selectAll(".tick line").attr("stroke", gridColor).attr("stroke-width", 1.3))
  .call(g => g.selectAll(".tick text")
    .attr("fill", "#262626")
    .attr("font-size", 19)
    .attr("dy", "0.36em"));

// x axis labels
svg.append("g")
  .attr("transform", `translate(0,${height - marginBottom})`)
  .call(d3.axisBottom(x)
    .tickValues(xTicks)
    .tickSize(0)
    .tickPadding(21)
    .tickFormat(d => d + "%"))
  .call(g => g.select(".domain").remove())
  .call(g => g.selectAll(".tick text")
    .attr("fill", "#262626")
    .attr("font-size", 19));

// scatter: 2025 below, 2015 on top
const r = 5.3;
svg.append("g")
  .selectAll("circle")
  .data(points2025)
  .join("circle")
    .attr("cx", d => x(d.load))
    .attr("cy", d => y(d.lmp))
    .attr("r", r)
    .attr("fill", gray)
    .attr("fill-opacity", 0.29);

svg.append("g")
  .selectAll("circle")
  .data(points2015)
  .join("circle")
    .attr("cx", d => x(d.load))
    .attr("cy", d => y(d.lmp))
    .attr("r", r)
    .attr("fill", green)
    .attr("fill-opacity", 0.45);

// axis titles
svg.append("text")
  .attr("x", (marginLeft + width - marginRight) / 2)
  .attr("y", 736)
  .attr("text-anchor", "middle")
  .attr("font-size", 20)
  .attr("fill", "#262626")
  .text("Load as a Percent of Annual Max (%)");

svg.append("text")
  .attr("transform", `translate(25,${(marginTop + height - marginBottom) / 2})rotate(-90)`)
  .attr("text-anchor", "middle")
  .attr("font-size", 20)
  .attr("fill", "#262626")
  .text("LMP ($/MWh)");

// annotation
svg.append("defs").append("marker")
  .attr("id", "arrowhead")
  .attr("viewBox", "0 0 10 10")
  .attr("refX", 9)
  .attr("refY", 5)
  .attr("markerWidth", 4.5)
  .attr("markerHeight", 4.5)
  .attr("orient", "auto")
  .append("path")
    .attr("d", "M0,0 L10,5 L0,10 z")
    .attr("fill", navy);

svg.append("line")
  .attr("x1", x(51.0))
  .attr("y1", y(211))
  .attr("x2", x(55.55))
  .attr("y2", y(47))
  .attr("stroke", navy)
  .attr("stroke-width", 3.2)
  .attr("marker-end", "url(#arrowhead)");

const bx = x(57.0), bEnd = x(58.2), bNub = x(55.6);
const bTop = y(95), bMid = y(44), bBot = y(-5);
svg.append("path")
  .attr("d", `M${bEnd},${bTop} Q${bx},${bTop} ${bx},${bTop + 14} L${bx},${bMid - 10} Q${bx},${bMid} ${bx - 10},${bMid} L${bNub},${bMid}
              M${bx - 10},${bMid} Q${bx},${bMid} ${bx},${bMid + 10} L${bx},${bBot - 14} Q${bx},${bBot} ${bEnd},${bBot}`)
  .attr("fill", "none")
  .attr("stroke", navy)
  .attr("stroke-width", 2.6);

const note = svg.append("text")
  .attr("x", x(41.5))
  .attr("y", y(257))
  .attr("font-size", 24)
  .attr("font-weight", "bold")
  .attr("fill", navy);
note.append("tspan").text("Renewables increase price");
note.append("tspan").attr("x", x(41.5)).attr("dy", 36).text("uncertainty at a given load");

// legend
const legend = svg.append("g").attr("transform", "translate(589,789)");
const legendItems = legend.selectAll("g")
  .data(seriesNames)
  .join("g")
    .attr("transform", (d, i) => `translate(${i * 82},0)`);
legendItems.append("circle")
  .attr("r", 4.5)
  .attr("fill", (d, i) => (i === 0 ? gray : green))
  .attr("fill-opacity", (d, i) => (i === 0 ? 0.29 : 0.45));
legendItems.append("text")
  .attr("x", 13)
  .attr("y", 7)
  .attr("font-size", 19)
  .attr("fill", "#262626")
  .text(d => d);
</script>
</body>
</html>
